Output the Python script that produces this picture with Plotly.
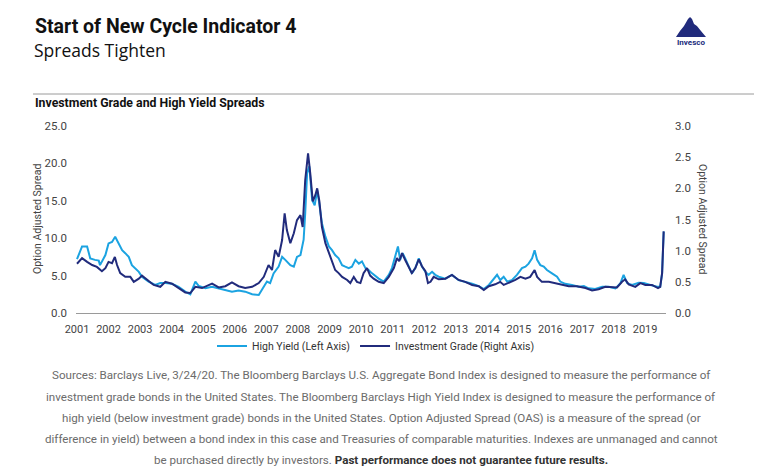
import plotly.graph_objects as go
import pandas as pd

# ---------------- data (decimal years) ----------------
hy_dates = [2001.63, 2001.79, 2001.95, 2002.05, 2002.20, 2002.32, 2002.36, 2002.53, 2002.63, 2002.74,
            2002.84, 2002.95, 2003.06, 2003.16, 2003.27, 2003.37, 2003.48, 2003.59, 2003.69, 2003.90,
            2004.11, 2004.27, 2004.43, 2004.64, 2004.85, 2005.06, 2005.22, 2005.38, 2005.49, 2005.70,
            2005.91, 2006.12, 2006.33, 2006.54, 2006.75, 2006.96, 2007.18, 2007.39, 2007.49, 2007.65,
            2007.75, 2007.86, 2008.02, 2008.13, 2008.23, 2008.39, 2008.50, 2008.60, 2008.71, 2008.81,
            2008.86, 2008.92, 2008.99, 2009.08, 2009.16, 2009.24, 2009.29, 2009.39, 2009.50, 2009.61,
            2009.71, 2009.81, 2009.92, 2010.03, 2010.13, 2010.24, 2010.34, 2010.45, 2010.56, 2010.66,
            2010.77, 2010.87, 2010.98, 2011.19, 2011.35, 2011.51, 2011.61, 2011.72, 2011.80, 2011.87,
            2011.95, 2012.03, 2012.14, 2012.24, 2012.35, 2012.46, 2012.56, 2012.67, 2012.77, 2012.88,
            2012.98, 2013.09, 2013.30, 2013.51, 2013.72, 2013.93, 2014.15, 2014.36, 2014.52, 2014.68,
            2014.83, 2014.94, 2015.04, 2015.15, 2015.26, 2015.41, 2015.57, 2015.73, 2015.84, 2015.94,
            2016.05, 2016.13, 2016.21, 2016.31, 2016.42, 2016.52, 2016.68, 2016.84, 2016.94, 2017.10,
            2017.31, 2017.53, 2017.69, 2017.84, 2018.05, 2018.27, 2018.48, 2018.69, 2018.85, 2018.95,
            2019.06, 2019.22, 2019.43, 2019.59, 2019.80, 2020.01, 2020.11, 2020.17, 2020.22]
hy_values = [7.2, 8.9, 8.9, 7.3, 7.1, 7.0, 6.4, 7.75, 9.3, 9.5,
             10.2, 9.3, 8.4, 8.0, 7.5, 6.4, 6.0, 5.5, 4.85, 4.2,
             3.75, 4.0, 4.0, 3.9, 3.5, 2.85, 2.5, 4.2, 3.6, 3.3,
             3.5, 3.3, 3.0, 2.85, 3.0, 2.85, 2.5, 2.4, 3.1, 4.2,
             4.0, 5.3, 6.2, 7.5, 7.1, 6.4, 6.2, 7.5, 7.75, 9.8,
             13.3, 18.7, 19.6, 15.1, 14.4, 16.4, 15.1, 12.0, 10.2, 8.9,
             8.4, 7.75, 7.3, 6.4, 6.2, 6.0, 6.2, 7.1, 6.6, 6.9,
             6.0, 5.75, 5.3, 4.6, 4.2, 5.1, 6.0, 7.75, 8.9, 7.1,
             8.0, 7.3, 6.2, 5.3, 6.0, 7.3, 6.2, 5.5, 5.1, 5.5,
             5.1, 4.85, 4.6, 5.1, 4.4, 4.2, 3.9, 3.6, 3.2, 3.75,
             4.6, 5.1, 4.4, 4.85, 4.2, 4.4, 5.1, 6.0, 6.2, 6.6,
             7.3, 8.4, 7.1, 6.4, 6.2, 5.75, 5.3, 4.85, 4.2, 3.9,
             3.75, 3.5, 3.6, 3.3, 3.2, 3.5, 3.5, 3.3, 4.0, 5.1,
             4.0, 3.75, 4.05, 4.0, 3.75, 3.5, 3.5, 5.3, 10.9]

ig_dates = [2001.63, 2001.79, 2001.95, 2002.11, 2002.26, 2002.42, 2002.53, 2002.63, 2002.74, 2002.83,
            2002.90, 2003.00, 2003.16, 2003.32, 2003.43, 2003.59, 2003.69, 2003.85, 2004.06, 2004.27,
            2004.43, 2004.64, 2004.85, 2005.06, 2005.22, 2005.38, 2005.59, 2005.91, 2006.12, 2006.33,
            2006.54, 2006.75, 2006.96, 2007.18, 2007.39, 2007.55, 2007.70, 2007.81, 2007.91, 2008.02,
            2008.13, 2008.21, 2008.28, 2008.39, 2008.50, 2008.60, 2008.71, 2008.78, 2008.86, 2008.95,
            2009.02, 2009.10, 2009.18, 2009.24, 2009.31, 2009.39, 2009.50, 2009.61, 2009.71, 2009.81,
            2009.92, 2010.03, 2010.19, 2010.29, 2010.40, 2010.50, 2010.61, 2010.71, 2010.82, 2010.92,
            2011.03, 2011.19, 2011.35, 2011.51, 2011.67, 2011.77, 2011.84, 2011.93, 2012.03, 2012.14,
            2012.24, 2012.35, 2012.46, 2012.56, 2012.67, 2012.75, 2012.83, 2012.93, 2013.09, 2013.30,
            2013.51, 2013.72, 2013.93, 2014.15, 2014.36, 2014.52, 2014.68, 2014.88, 2015.04, 2015.15,
            2015.31, 2015.52, 2015.68, 2015.84, 2015.99, 2016.13, 2016.21, 2016.36, 2016.58, 2016.79,
            2017.00, 2017.21, 2017.47, 2017.74, 2017.95, 2018.16, 2018.37, 2018.58, 2018.74, 2018.90,
            2019.00, 2019.11, 2019.32, 2019.48, 2019.64, 2019.85, 2020.04, 2020.11, 2020.17, 2020.22]
ig_values = [0.79, 0.88, 0.82, 0.77, 0.74, 0.67, 0.72, 0.82, 0.80, 0.90,
             0.77, 0.64, 0.58, 0.58, 0.50, 0.55, 0.60, 0.53, 0.45, 0.42,
             0.50, 0.47, 0.40, 0.33, 0.32, 0.42, 0.40, 0.47, 0.41, 0.43,
             0.49, 0.43, 0.40, 0.42, 0.48, 0.58, 0.77, 0.69, 1.01, 0.90,
             1.17, 1.60, 1.33, 1.12, 1.28, 1.49, 1.57, 1.38, 2.13, 2.56,
             2.24, 1.79, 1.89, 2.00, 1.79, 1.38, 1.12, 0.96, 0.80, 0.69,
             0.64, 0.58, 0.53, 0.48, 0.58, 0.50, 0.48, 0.64, 0.72, 0.60,
             0.55, 0.50, 0.48, 0.58, 0.72, 0.88, 0.83, 0.96, 0.85, 0.75,
             0.64, 0.72, 0.86, 0.75, 0.67, 0.48, 0.50, 0.58, 0.54, 0.55,
             0.61, 0.53, 0.50, 0.45, 0.43, 0.37, 0.43, 0.46, 0.50, 0.45,
             0.48, 0.53, 0.58, 0.55, 0.58, 0.69, 0.58, 0.50, 0.50, 0.48,
             0.45, 0.43, 0.43, 0.40, 0.36, 0.38, 0.42, 0.42, 0.41, 0.50,
             0.54, 0.46, 0.42, 0.48, 0.45, 0.45, 0.40, 0.42, 0.64, 1.31]

year_labels = [str(y) for y in range(2001, 2020)]
left_ticks = [0, 5, 10, 15, 20, 25]
right_ticks = [0, 0.5, 1.0, 1.5, 2.0, 2.5, 3.0]

series_names = ["High Yield (Left Axis)", "Investment Grade (Right Axis)"]
title_text = "Start of New Cycle Indicator 4"
subtitle_text = "Spreads Tighten"
chart_heading = "Investment Grade and High Yield Spreads"
axis_title = "Option Adjusted Spread"
footnote_lines = [
    "Sources: Barclays Live, 3/24/20. The Bloomberg Barclays U.S. Aggregate Bond Index is designed to measure the performance of",
    "investment grade bonds in the United States. The Bloomberg Barclays High Yield Index is designed to measure the performance of",
    "high yield (below investment grade) bonds in the United States. Option Adjusted Spread (OAS) is a measure of the spread (or",
    "difference in yield) between a bond index in this case and Treasuries of comparable maturities. Indexes are unmanaged and cannot",
    "be purchased directly by investors. <b><span style='color:#333333'>Past performance does not guarantee future results.</span></b>",
]

# ---------------- helpers ----------------
def dec_to_ts(d):
    y = int(d)
    start = pd.Timestamp(year=y, month=1, day=1)
    end = pd.Timestamp(year=y + 1, month=1, day=1)
    return start + (end - start) * (d - y)

OFF = 8                     # page body margin offset
W, H = 762 - OFF, 476 - OFF
L, R, T, B = 76, 666, 126, 313  # plot area in page pixels

def px(x):
    return (x - L) / (R - L)

def py(y):
    return (B - y) / (B - T)

HY_COLOR = "#1BA3E1"
IG_COLOR = "#212B7C"
TXT = "#3c3c3c"
FONT = "Roboto, Liberation Sans, Arial, sans-serif"

fig = go.Figure()
fig.add_trace(go.Scatter(x=[dec_to_ts(d) for d in hy_dates], y=hy_values, name=series_names[0],
                         mode="lines", line=dict(color=HY_COLOR, width=2), yaxis="y"))
fig.add_trace(go.Scatter(x=[dec_to_ts(d) for d in ig_dates], y=ig_values, name=series_names[1],
                         mode="lines", line=dict(color=IG_COLOR, width=2), yaxis="y2"))

tickvals = [dec_to_ts(int(y) + 0.63) for y in year_labels]

fig.update_layout(
    width=W, height=H,
    margin=dict(l=L - OFF, r=W - (R - OFF), t=T - OFF, b=H - (B - OFF), autoexpand=False),
    paper_bgcolor="white", plot_bgcolor="white",
    font=dict(family=FONT, color=TXT, size=11),
    showlegend=True,
    legend=dict(orientation="h", x=px(376), xanchor="center", y=py(346), yanchor="middle",
                font=dict(size=10.5, color="#333333"), itemwidth=30, bgcolor="rgba(0,0,0,0)"),
    xaxis=dict(type="date", range=[dec_to_ts(2001.598), dec_to_ts(2020.293)],
               tickmode="array", tickvals=tickvals, ticktext=year_labels,
               showgrid=False, zeroline=False, showline=True, linecolor="#9a9a9a", linewidth=1,
               ticks="", ticklabelstandoff=6, tickfont=dict(size=11, color="#444444")),
    yaxis=dict(range=[0, 25], tickmode="array", tickvals=left_ticks, tickformat=".1f",
               showgrid=False, zeroline=False, showline=False, ticks="",
               ticklabelstandoff=8, tickfont=dict(size=11.5, color="#444444")),
    yaxis2=dict(range=[0, 3], overlaying="y", side="right", tickmode="array", tickvals=right_ticks,
                tickformat=".1f", showgrid=False, zeroline=False, showline=False, ticks="",
                ticklabelstandoff=8, tickfont=dict(size=11.5, color="#444444")),
)

ann = []
ann.append(dict(x=px(33), y=py(26.5), xref="paper", yref="paper", xanchor="left", yanchor="middle",
                text="<b>" + title_text + "</b>", showarrow=False,
                font=dict(size=19.5, color="#111111")))
ann.append(dict(x=px(32), y=py(50.5), xref="paper", yref="paper", xanchor="left", yanchor="middle",
                text=subtitle_text, showarrow=False,
                font=dict(size=17.5, color="#111111", family="Open Sans, Roboto, sans-serif")))
ann.append(dict(x=px(33), y=py(103), xref="paper", yref="paper", xanchor="left", yanchor="middle",
                text="<b>" + chart_heading + "</b>", showarrow=False, font=dict(size=12.3, color="#111111")))
ann.append(dict(x=px(37), y=py(219), xref="paper", yref="paper", xanchor="center", yanchor="middle",
                text=axis_title, textangle=-90, showarrow=False, font=dict(size=10.5, color="#444444")))
ann.append(dict(x=px(703), y=py(219), xref="paper", yref="paper", xanchor="center", yanchor="middle",
                text=axis_title, textangle=90, showarrow=False, font=dict(size=10.5, color="#444444")))
ann.append(dict(x=px(691), y=py(42), xref="paper", yref="paper", xanchor="center", yanchor="middle",
                text="<b>Invesco</b>", showarrow=False, font=dict(size=8, color=IG_COLOR)))
foot_y = [375, 397, 418, 439, 460]
for line, yy in zip(footnote_lines, foot_y):
    ann.append(dict(x=px(381), y=py(yy), xref="paper", yref="paper", xanchor="center", yanchor="middle",
                    text=line, showarrow=False, font=dict(size=11.6, color="#6b6b6b")))
fig.update_layout(annotations=ann)

# rule under title block
fig.add_shape(type="line", xref="paper", yref="paper", x0=px(33), x1=px(770), y0=py(94), y1=py(94),
              line=dict(color="#9a9a9a", width=1))
# logo mountain
pts = [(676, 37), (680, 31), (684, 26), (688, 19), (690, 17), (692, 19), (694, 24), (697, 26),
       (701, 31), (706, 37)]
path = "M " + " L ".join(f"{px(a):.4f},{py(b):.4f}" for a, b in pts) + " Z"
fig.add_shape(type="path", xref="paper", yref="paper", path=path, fillcolor=IG_COLOR,
              line=dict(color=IG_COLOR, width=0))

fig.write_html("out.html")
